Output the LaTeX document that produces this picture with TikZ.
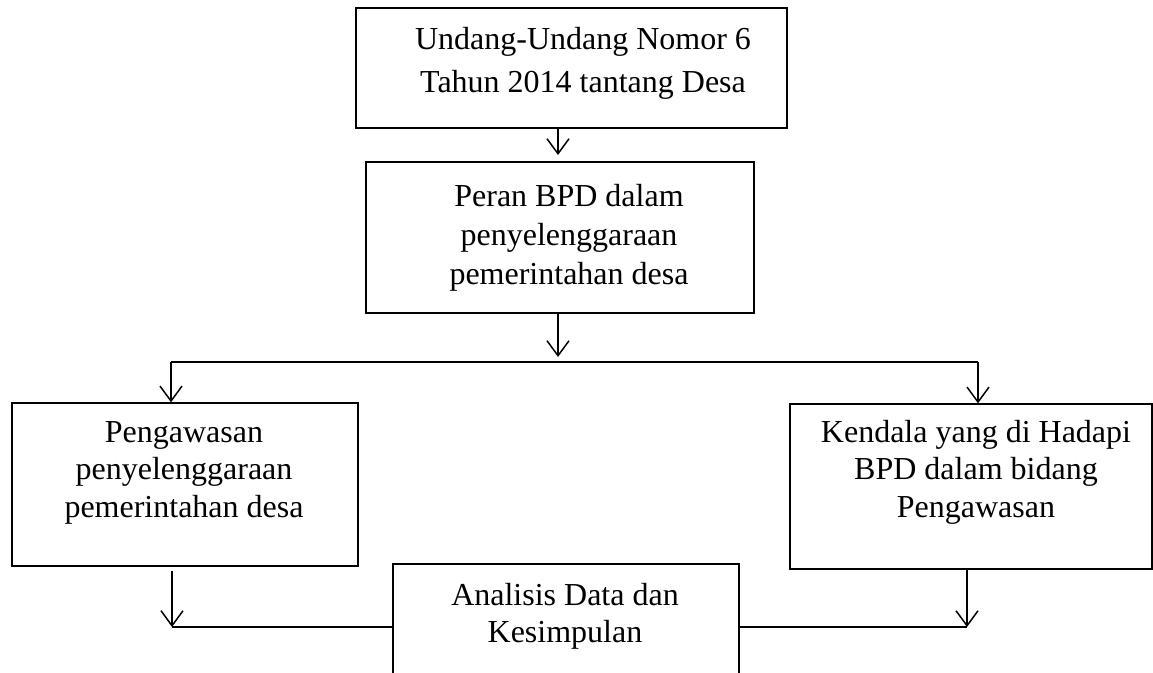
\documentclass[tikz,border=0pt]{standalone}
\usepackage{fontspec}
\setmainfont{Liberation Serif}
\usetikzlibrary{arrows.meta}
\begin{document}
\begin{tikzpicture}[x=1pt,y=-1pt,
  box/.style={draw,line width=1.3pt,inner sep=0pt},
  txt/.style={align=center,inner sep=0pt,anchor=base,font=\fontsize{32}{#1}\selectfont},
  conn/.style={line width=1.5pt},
  arr/.style={conn,-{Straight Barb[length=15pt,width=22pt,line width=1.5pt]}}]
\useasboundingbox (0,0) rectangle (1153,672);
\clip (0,0) rectangle (1153,672);
\fill[white] (0,0) rectangle (1153,672);

% boxes
\node[box,minimum width=431pt,minimum height=120pt] (b1) at (571.5,68) {};
\node[box,minimum width=388pt,minimum height=151pt] (b2) at (560,237.5) {};
\node[box,minimum width=346pt,minimum height=163pt] (b3) at (185,484.5) {};
\node[box,minimum width=362pt,minimum height=165pt] (b4) at (971,486.5) {};
\node[box,minimum width=346pt,minimum height=130pt] (b5) at (566,629) {};

% texts (anchored at the baseline of the last line)
\node[txt=43] (t1) at (583,92) {Undang-Undang Nomor 6\\Tahun 2014 tantang Desa};
\node[txt=39] (t2) at (569,284) {Peran BPD dalam\\penyelenggaraan\\pemerintahan desa};
\node[txt=37.5] (t3) at (184,517) {Pengawasan\\penyelenggaraan\\pemerintahan desa};
\node[txt=37.5] (t4) at (976,517) {Kendala yang di Hadapi\\BPD dalam bidang\\Pengawasan};
\node[txt=37] (t5) at (565,642) {Analisis Data dan\\Kesimpulan};

% junction coordinates
\coordinate (a1) at (558,155);
\coordinate (a2) at (558,357);
\coordinate (hl) at (171,362);
\coordinate (hr) at (978,362);
\coordinate (bl) at (172,627);
\coordinate (br) at (967,627);

% connectors
\draw[arr] (b1.south -| a1) -- (a1);
\draw[arr] (b2.south -| a2) -- (a2);
\draw[conn] (hl) -- (hr);
\draw[arr] (hl) -- (hl |- b3.north);
\draw[arr] (hr) -- (hr |- b4.north);
\draw[arr] ([yshift=-4pt]b3.south -| bl) -- (bl);
\draw[arr] (b4.south -| br) -- (br);
\draw[conn] (bl) -- (bl -| b5.west);
\draw[conn] (br) -- (br -| b5.east);
\end{tikzpicture}
\end{document}
